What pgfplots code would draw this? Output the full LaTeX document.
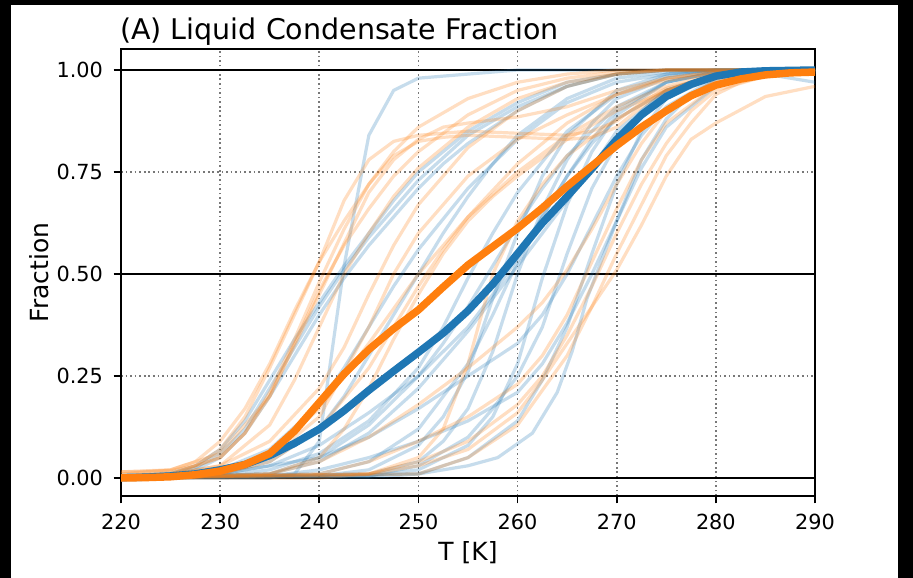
\documentclass[border=0pt]{standalone}
\usepackage{fontspec}
\setmainfont{DejaVu Sans}
\usepackage{pgfplots}
\pgfplotsset{compat=1.18}
\definecolor{c0}{RGB}{31,119,180}
\definecolor{c1}{RGB}{255,127,14}
\definecolor{gridgray}{RGB}{120,120,120}
\tikzset{
  tb/.style={color=c0, opacity=0.25, line width=3.2pt, line join=round},
  to/.style={color=c1, opacity=0.25, line width=3.2pt, line join=round},
}
\begin{document}
\begin{tikzpicture}
\fill[black] (0pt,0pt) rectangle (913pt,578pt);
\fill[white] (11pt,0pt) rectangle (898pt,573pt);
\begin{axis}[
  at={(121pt,82pt)}, anchor=south west, scale only axis,
  width=694pt, height=447pt,
  xmin=220, xmax=290, ymin=-0.0441, ymax=1.0515,
  xtick={220,230,240,250,260,270,280,290},
  xticklabels={220,230,240,250,260,270,280,290},
  ytick={0,0.25,0.5,0.75,1},
  yticklabels={0.00,0.25,0.50,0.75,1.00},
  xtick pos=bottom, ytick pos=left,
  tick align=outside, major tick length=7.3pt,
  tick style={black, line width=1.67pt},
  axis line style={black, line width=1.67pt},
  grid=major,
  major grid style={gridgray, line width=1.67pt, dash pattern=on 1.67pt off 2.9pt},
  ticklabel style={font=\fontsize{20.8}{24}\selectfont},
  xticklabel style={yshift=-7.3pt},
  yticklabel style={xshift=-7.3pt},
]
% reference lines
\addplot[black, line width=2.9pt, forget plot] coordinates {(220,0) (290,0)};
\addplot[black, line width=2.9pt, forget plot] coordinates {(220,0.5) (290,0.5)};
\addplot[black, line width=2.9pt, forget plot] coordinates {(220,1) (290,1)};

% ---- thin blue members ----
\addplot[tb] coordinates {(220,0)(235,0)(237.5,0.01)(240,0.09)(242.5,0.52)(245,0.84)(247.5,0.95)(250,0.98)(255,0.99)(260,1)(290,1)};
\addplot[tb] coordinates {(220,0.005)(225,0.012)(227.5,0.03)(230,0.07)(232.5,0.14)(235,0.24)(237.5,0.34)(240,0.43)(242.5,0.52)(245,0.60)(247.5,0.68)(250,0.75)(252.5,0.80)(255,0.85)(260,0.92)(265,0.97)(270,0.99)(275,1)(290,1)};
\addplot[tb] coordinates {(220,0.002)(225,0.006)(227.5,0.02)(230,0.05)(232.5,0.11)(235,0.2)(237.5,0.3)(240,0.4)(242.5,0.49)(245,0.57)(247.5,0.64)(250,0.71)(252.5,0.77)(255,0.82)(260,0.90)(265,0.96)(270,0.99)(275,1)(290,1)};
\addplot[tb] coordinates {(220,0.003)(225,0.01)(227.5,0.025)(230,0.06)(232.5,0.12)(235,0.22)(237.5,0.32)(240,0.42)(242.5,0.51)(245,0.59)(247.5,0.66)(250,0.73)(255,0.84)(260,0.91)(265,0.96)(270,0.99)(275,1)(290,1)};
\addplot[tb] coordinates {(220,0)(230,0.01)(235,0.04)(240,0.12)(242.5,0.2)(245,0.3)(247.5,0.4)(250,0.5)(252.5,0.6)(255,0.69)(257.5,0.77)(260,0.84)(265,0.93)(270,0.98)(275,0.995)(280,1)(290,1)};
\addplot[tb] coordinates {(220,0)(235,0.01)(240,0.05)(245,0.13)(250,0.25)(252.5,0.33)(255,0.42)(257.5,0.52)(260,0.62)(262.5,0.71)(265,0.79)(270,0.91)(275,0.97)(280,0.995)(290,1)};
\addplot[tb] coordinates {(220,0)(230,0.01)(235,0.03)(240,0.08)(245,0.16)(250,0.25)(255,0.37)(257.5,0.45)(260,0.54)(262.5,0.64)(265,0.74)(267.5,0.83)(270,0.9)(275,0.97)(280,0.995)(290,1)};
\addplot[tb] coordinates {(220,0)(230,0.01)(240,0.05)(245,0.1)(250,0.17)(255,0.25)(260,0.33)(262.5,0.4)(265,0.5)(267.5,0.62)(270,0.74)(272.5,0.84)(275,0.91)(280,0.98)(285,0.997)(290,1)};
\addplot[tb] coordinates {(220,0)(235,0.005)(240,0.02)(245,0.05)(250,0.09)(255,0.14)(260,0.21)(262.5,0.28)(265,0.38)(267.5,0.5)(270,0.63)(272.5,0.76)(275,0.86)(280,0.96)(285,0.99)(290,0.995)};
\addplot[tb] coordinates {(220,0)(240,0.005)(245,0.02)(250,0.08)(252.5,0.15)(255,0.26)(257.5,0.44)(260,0.6)(262.5,0.74)(265,0.84)(270,0.95)(275,0.99)(280,1)(290,1)};
\addplot[tb] coordinates {(220,0)(245,0.01)(250,0.04)(252.5,0.09)(255,0.17)(257.5,0.31)(260,0.5)(262.5,0.66)(265,0.78)(267.5,0.87)(270,0.93)(275,0.98)(280,0.997)(290,1)};
\addplot[tb] coordinates {(220,0)(245,0.005)(250,0.02)(255,0.08)(257.5,0.15)(260,0.28)(262.5,0.49)(265,0.67)(267.5,0.8)(270,0.89)(275,0.97)(280,0.995)(290,1)};
\addplot[tb] coordinates {(220,0)(245,0.005)(250,0.03)(255,0.1)(257.5,0.17)(260,0.25)(262.5,0.37)(265,0.55)(267.5,0.71)(270,0.82)(272.5,0.9)(275,0.95)(280,0.99)(290,1)};
\addplot[tb] coordinates {(220,0)(250,0.01)(255,0.05)(260,0.14)(262.5,0.24)(265,0.37)(267.5,0.55)(270,0.72)(272.5,0.85)(275,0.93)(280,0.985)(285,1)(290,1)};
\addplot[tb] coordinates {(220,0)(245,0.002)(250,0.01)(255,0.03)(258,0.05)(261.5,0.11)(264,0.21)(265.5,0.31)(267,0.44)(270,0.63)(272.5,0.78)(275,0.88)(277.5,0.94)(280,0.975)(285,0.995)(290,1)};
\addplot[tb] coordinates {(220,0)(240,0.01)(245,0.04)(250,0.12)(255,0.28)(257.5,0.4)(260,0.53)(262.5,0.64)(265,0.74)(267.5,0.82)(270,0.88)(275,0.95)(280,0.99)(285,0.99)(290,0.97)};
\addplot[tb] coordinates {(220,0)(235,0.01)(240,0.04)(245,0.11)(250,0.22)(255,0.36)(260,0.52)(262.5,0.6)(265,0.68)(267.5,0.76)(270,0.85)(275,0.95)(280,0.99)(290,1)};
\addplot[tb] coordinates {(220,0)(225,0.005)(230,0.02)(235,0.07)(240,0.18)(242.5,0.27)(245,0.37)(247.5,0.47)(250,0.56)(255,0.71)(260,0.83)(265,0.92)(270,0.97)(275,0.99)(280,1)(290,1)};
\addplot[tb] coordinates {(220,0)(230,0.005)(235,0.02)(240,0.06)(245,0.14)(250,0.27)(252.5,0.37)(255,0.49)(257.5,0.6)(260,0.7)(265,0.85)(270,0.94)(275,0.985)(280,1)(290,1)};

% ---- thin orange members ----
\addplot[to] coordinates {(220,0.015)(225,0.018)(227.5,0.03)(230,0.07)(232.5,0.15)(235,0.27)(237.5,0.40)(240,0.53)(242.5,0.68)(245,0.78)(247.5,0.825)(250,0.84)(255,0.85)(260,0.845)(265,0.84)(267.5,0.85)(270,0.875)(272.5,0.92)(275,0.955)(280,0.985)(285,0.995)(290,1)};
\addplot[to] coordinates {(220,0.005)(225,0.01)(230,0.05)(232.5,0.11)(235,0.21)(237.5,0.34)(240,0.48)(242.5,0.61)(245,0.72)(247.5,0.79)(250,0.825)(252.5,0.835)(255,0.84)(260,0.835)(265,0.83)(267.5,0.835)(270,0.86)(272.5,0.91)(275,0.95)(280,0.98)(285,0.995)(290,1)};
\addplot[to] coordinates {(220,0)(240,0)(245,0.01)(250,0.03)(255,0.07)(260,0.16)(262.5,0.24)(265,0.33)(267.5,0.42)(270,0.51)(272.5,0.62)(275,0.74)(277.5,0.83)(280,0.87)(285,0.935)(290,0.96)};
\addplot[to] coordinates {(220,0)(250,0.01)(255,0.05)(260,0.13)(265,0.3)(267.5,0.42)(270,0.55)(272.5,0.67)(275,0.79)(277.5,0.87)(280,0.94)(282.5,0.97)(285,0.985)(290,0.995)};
\addplot[to] coordinates {(220,0.015)(225,0.02)(227.5,0.04)(230,0.09)(232.5,0.17)(235,0.28)(237.5,0.41)(240,0.53)(242.5,0.63)(245,0.72)(247.5,0.80)(250,0.86)(255,0.93)(260,0.97)(265,0.99)(270,1)(290,1)};
\addplot[to] coordinates {(220,0.005)(225,0.01)(230,0.05)(232.5,0.11)(235,0.2)(237.5,0.33)(240,0.46)(242.5,0.57)(245,0.66)(247.5,0.74)(250,0.8)(255,0.89)(260,0.95)(265,0.98)(270,0.995)(275,1)(290,1)};
\addplot[to] coordinates {(220,0.002)(225,0.008)(230,0.03)(235,0.13)(237.5,0.24)(240,0.37)(242.5,0.5)(245,0.6)(247.5,0.69)(250,0.76)(255,0.86)(260,0.93)(265,0.97)(270,0.99)(275,1)(290,1)};
\addplot[to] coordinates {(220,0)(230,0.01)(235,0.04)(240,0.12)(245,0.27)(247.5,0.37)(250,0.47)(252.5,0.56)(255,0.64)(260,0.77)(265,0.87)(270,0.94)(275,0.98)(280,0.995)(290,1)};
\addplot[to] coordinates {(220,0)(230,0.015)(235,0.06)(240,0.17)(245,0.33)(250,0.5)(255,0.64)(260,0.75)(265,0.84)(270,0.91)(275,0.96)(280,0.99)(290,1)};
\addplot[to] coordinates {(220,0)(235,0.01)(240,0.04)(245,0.1)(250,0.18)(255,0.27)(260,0.37)(262.5,0.43)(265,0.51)(267.5,0.61)(270,0.72)(272.5,0.82)(275,0.9)(280,0.975)(285,0.995)(290,1)};
\addplot[to] coordinates {(220,0)(240,0.01)(245,0.04)(250,0.09)(255,0.15)(260,0.23)(262.5,0.3)(265,0.4)(267.5,0.53)(270,0.66)(272.5,0.78)(275,0.87)(280,0.96)(285,0.99)(290,1)};
\addplot[to] coordinates {(220,0)(245,0.01)(250,0.04)(255,0.09)(260,0.18)(262.5,0.25)(265,0.35)(267.5,0.47)(270,0.6)(272.5,0.72)(275,0.82)(277.5,0.9)(280,0.95)(285,0.985)(290,0.995)};
\addplot[to] coordinates {(220,0)(235,0.01)(240,0.05)(242.5,0.12)(245,0.22)(247.5,0.34)(250,0.45)(252.5,0.55)(255,0.63)(257.5,0.69)(260,0.74)(265,0.83)(270,0.9)(275,0.95)(280,0.985)(290,1)};
\addplot[to] coordinates {(220,0.005)(225,0.01)(230,0.03)(235,0.09)(240,0.22)(242.5,0.32)(245,0.45)(247.5,0.57)(250,0.67)(255,0.81)(260,0.9)(265,0.96)(270,0.99)(275,1)(290,1)};
\addplot[to] coordinates {(220,0)(245,0.01)(250,0.05)(252.5,0.12)(255,0.28)(257.5,0.5)(260,0.63)(262.5,0.72)(265,0.79)(270,0.88)(275,0.95)(280,0.99)(290,1)};
\addplot[to] coordinates {(220,0)(230,0.01)(235,0.05)(240,0.15)(245,0.37)(247.5,0.5)(250,0.6)(255,0.74)(260,0.83)(265,0.89)(270,0.94)(275,0.975)(280,0.99)(290,1)};
\addplot[to] coordinates {(220,0.01)(225,0.02)(230,0.06)(235,0.2)(240,0.45)(245,0.7)(247.5,0.78)(250,0.83)(252.5,0.86)(255,0.87)(260,0.885)(265,0.91)(270,0.95)(275,0.98)(280,0.995)(290,1)};

% ---- ensemble means ----
\addplot[c0, line width=7.5pt, line join=round] coordinates {(220,0.001)(222.5,0.002)(225,0.005)(227.5,0.01)(230,0.02)(232.5,0.033)(235,0.055)(237.5,0.085)(240,0.12)(242.5,0.165)(245,0.215)(247.5,0.262)(250,0.308)(252.5,0.355)(255,0.41)(257.5,0.475)(260,0.55)(262.5,0.625)(265,0.69)(267.5,0.758)(270,0.83)(272.5,0.89)(275,0.935)(277.5,0.965)(280,0.985)(282.5,0.995)(285,0.998)(290,1)};
\addplot[c1, line width=7.5pt, line join=round] coordinates {(220,0)(222.5,0.001)(225,0.003)(227.5,0.008)(230,0.017)(232.5,0.033)(235,0.06)(237.5,0.115)(240,0.185)(242.5,0.255)(245,0.315)(247.5,0.366)(250,0.412)(252.5,0.468)(255,0.522)(257.5,0.567)(260,0.612)(262.5,0.662)(265,0.715)(267.5,0.765)(270,0.815)(272.5,0.86)(275,0.9)(277.5,0.937)(280,0.963)(282.5,0.978)(285,0.988)(287.5,0.993)(290,0.995)};
\end{axis}
\node[anchor=base west, inner sep=0pt, font=\fontsize{28.5}{34}\selectfont] at (120pt,538.5pt) {(A) Liquid Condensate Fraction};
\node[anchor=base, inner sep=0pt, font=\fontsize{25}{30}\selectfont] at (468pt,17pt) {T [K]};
\node[anchor=base, inner sep=0pt, rotate=90, font=\fontsize{25}{30}\selectfont] at (48pt,305.5pt) {Fraction};
\end{tikzpicture}
\end{document}
